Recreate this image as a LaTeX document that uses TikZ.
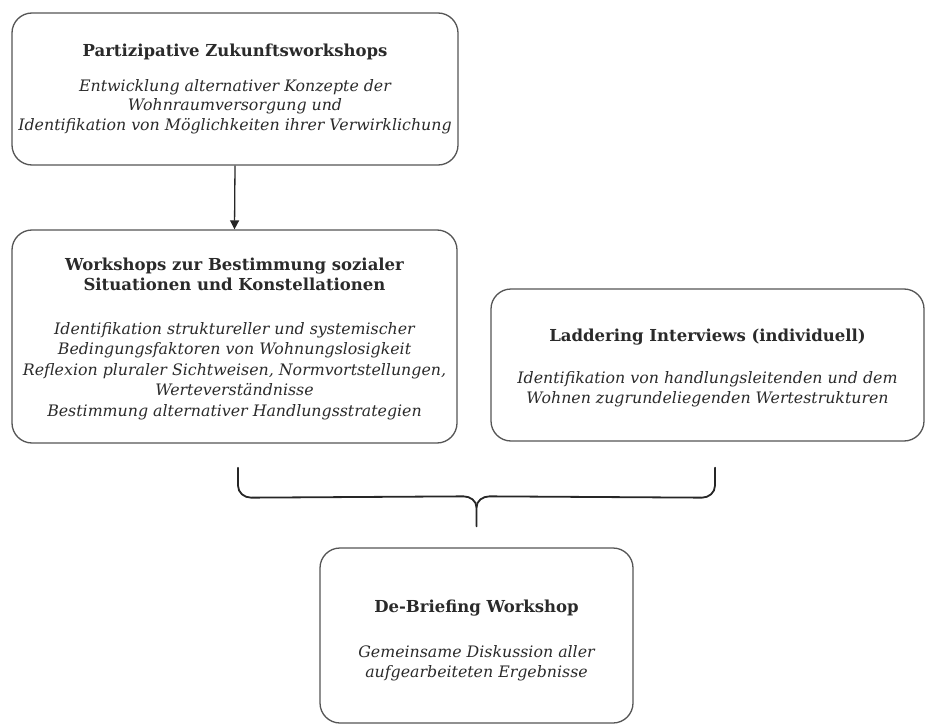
\documentclass[tikz,border=0pt]{standalone}
\usepackage{fontspec}
\setmainfont{DejaVu Serif}
\usetikzlibrary{arrows.meta,calc}
\definecolor{boxgray}{HTML}{555555}
\definecolor{txtgray}{HTML}{2A2A2A}
\definecolor{bracegray}{HTML}{262626}
\begin{document}
\begin{tikzpicture}[x=1pt,y=-1pt,
  box/.style={draw=boxgray, line width=1.3pt, rounded corners=20pt, align=center,
    inner sep=0pt, text=txtgray, font=\fontsize{15.8}{19.5}\selectfont\itshape},
  conn/.style={draw=bracegray, line width=1.3pt},
  bracepath/.style={draw=bracegray, line width=1.8pt, line cap=round}
]
\useasboundingbox (0,0) rectangle (927,725);

\node[box, minimum width=446pt, minimum height=152pt] (pz) at (235,89)
  {{\upshape\bfseries\fontsize{16.5}{19.5}\selectfont Partizipative Zukunftsworkshops}\\[15pt]
   Entwicklung alternativer Konzepte der\\
   Wohnraumversorgung und\\
   Identifikation von Möglichkeiten ihrer Verwirklichung};

\node[box, minimum width=445pt, minimum height=213pt, font=\fontsize{15.8}{20.5}\selectfont\itshape] (ws) at (234.5,336.5)
  {{\upshape\bfseries\fontsize{16.5}{20.5}\selectfont\rule{0pt}{17pt}Workshops zur Bestimmung sozialer}\\
   {\upshape\bfseries\fontsize{16.5}{20.5}\selectfont Situationen und Konstellationen}\\[23pt]
   Identifikation struktureller und systemischer\\
   Bedingungsfaktoren von Wohnungslosigkeit\\
   Reflexion pluraler Sichtweisen, Normvortstellungen,\\
   Werteverständnisse\\
   Bestimmung alternativer Handlungsstrategien};

\node[box, minimum width=433pt, minimum height=152pt] (li) at (707.5,365)
  {{\upshape\bfseries\fontsize{16.5}{19.5}\selectfont\rule{0pt}{18pt}Laddering Interviews (individuell)}\\[23pt]
   Identifikation von handlungsleitenden und dem\\
   Wohnen zugrundeliegenden Wertestrukturen};

\node[box, minimum width=313pt, minimum height=175pt] (db) at (476.5,635.5)
  {{\upshape\bfseries\fontsize{16.5}{19.5}\selectfont\rule{0pt}{22pt}De-Briefing Workshop}\\[26pt]
   Gemeinsame Diskussion aller\\
   aufgearbeiteten Ergebnisse};

\draw[conn, -{Triangle[length=9pt,width=9pt]}] (pz.south) -- (ws.north);

% brace joining the two middle boxes into the de-briefing workshop
\coordinate (bl) at ($(ws.south)+(3.5,24)$);
\coordinate (br) at ($(li.south)+(7.5,26)$);
\coordinate (bt) at ($(db.north)+(0,-21)$);
\draw[bracepath] (bl) -- ++(0,18) to[out=-90,in=180] ++(13,12) -- ($(bt)+(-13,-30)$)
  to[out=0,in=90] ($(bt)+(0,-19)$) -- (bt);
\draw[bracepath] (br) -- ++(0,18) to[out=-90,in=0] ++(-13,12) -- ($(bt)+(13,-30)$)
  to[out=180,in=90] ($(bt)+(0,-19)$);
\end{tikzpicture}
\end{document}
